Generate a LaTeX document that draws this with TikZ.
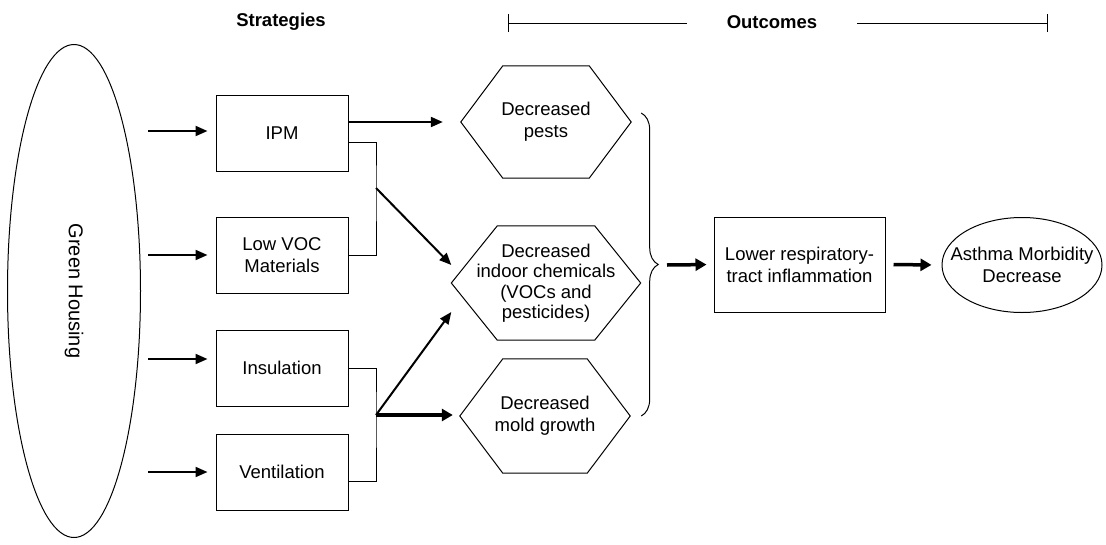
\documentclass[tikz,border=0pt]{standalone}
\usepackage{fontspec}
\setmainfont{Liberation Sans}
\usetikzlibrary{shapes.geometric,arrows.meta,decorations.pathreplacing}
\tikzstyle{lbl}=[font=\fontsize{18.5pt}{22pt}\selectfont,align=center]
\tikzstyle{sbox}=[lbl,rectangle,draw=black,line width=1pt,
  minimum width=132pt,minimum height=76pt,inner sep=2pt]
\tikzstyle{hexo}=[lbl,rectangle,minimum width=170pt,minimum height=112pt,inner sep=0pt]
\tikzstyle{obox}=[lbl,rectangle,draw=black,line width=1pt,
  minimum width=171pt,minimum height=95pt]
\tikzstyle{oval}=[lbl,ellipse,draw=black,line width=1pt]
\tikzstyle{ln}=[line width=1pt]
\tikzstyle{arw}=[-{Triangle[length=12pt,width=10pt]},line width=2pt]
\tikzstyle{arwb}=[-{Triangle[length=11pt,width=12pt]},line width=3.5pt]
% hexagon rim round an outcome node: #1 node, #2 cut of the corners
\newcommand{\hexrim}[2]{\draw [ln] ([xshift=#2]#1.north west) -- ([xshift=-#2]#1.north east)
  -- (#1.east) -- ([xshift=-#2]#1.south east) -- ([xshift=#2]#1.south west) -- (#1.west) -- cycle;}

\begin{document}
\begin{tikzpicture}[x=1pt,y=-1pt]
        \useasboundingbox (0,0) rectangle (1106,544);
        % headings
        \node [font=\fontsize{18.5pt}{22pt}\selectfont\bfseries] (strh) at (281,22) {Strategies};
        \node [font=\fontsize{18.5pt}{22pt}\selectfont\bfseries,inner xsep=40pt] (outh) at (772,22) {Outcomes};
        \coordinate (ol) at (508,23);
        \coordinate (or) at (1048,23);
        \draw [ln,{Bar[width=18pt]}-] (ol) -- (ol -| outh.west);
        \draw [ln,-{Bar[width=18pt]}] (or -| outh.east) -- (or);
        % strategies
        \node [style=oval,inner sep=0pt,rotate=-90,minimum width=493pt,minimum height=133pt,
          font=\fontsize{20pt}{24pt}\selectfont] (gh) at (74,291) {Green Housing};
        \node [style=sbox] (ipm) at (282,133) {IPM};
        \node [style=sbox] (voc) at (282,255.5) {Low VOC\\Materials};
        \node [style=sbox] (ins) at (282,368) {Insulation};
        \node [style=sbox] (vent) at (282,472) {Ventilation};
        \coordinate (g1) at (148,131);
        \coordinate (g2) at (148,255);
        \coordinate (g3) at (148,359);
        \coordinate (g4) at (148,472);
        \draw [arw,shorten >=8pt] (g1) to (g1 -| ipm.west);
        \draw [arw,shorten >=8pt] (g2) to (g2 -| voc.west);
        \draw [arw,shorten >=8pt] (g3) to (g3 -| ins.west);
        \draw [arw,shorten >=8pt] (g4) to (g4 -| vent.west);
        % outcomes
        \node [style=hexo] (pest) at (546,122) {Decreased\\pests};
        \node [style=hexo,minimum width=189pt,minimum height=114pt,
          font=\fontsize{18.5pt}{20.5pt}\selectfont] (chem) at (546,283)
          {Decreased\\indoor chemicals\\(VOCs and\\pesticides)};
        \node [style=hexo,minimum height=114pt] (mold) at (545,416) {Decreased\\mold growth};
        \hexrim{pest}{42pt}
        \hexrim{chem}{46pt}
        \hexrim{mold}{43pt}
        \coordinate (j1) at (376,188);
        \coordinate (j2) at (376,415);
        \draw [ln] ([yshift=-9pt]ipm.east) -| (j1) |- (voc.east);
        \draw [ln] (ins.east) -| (j2) |- ([yshift=-9pt]vent.east);
        \draw [arw,shorten >=18pt] (ipm.east |- pest.west) to (pest.west);
        \draw [arw] (j1) to ([yshift=18pt]chem.west);
        \draw [arw] (j2) to ([yshift=-29pt]chem.west);
        \draw [arwb,shorten >=7pt] (j2) to (j2 -| mold.west);
        \draw [ln,decorate,decoration={brace,amplitude=17pt}]
          ([xshift=10pt,yshift=9pt]pest.east) -- ([xshift=11pt]mold.east);
        \coordinate (bt) at (667,265);
        \node [style=obox] (lrt) at (799.5,264.5) {Lower respiratory-\\tract inflammation};
        \node [style=oval,inner xsep=-15pt,inner ysep=12pt,minimum width=160pt,minimum height=95pt]
          (asth) at (1022,265) {Asthma Morbidity\\Decrease};
        \draw [arwb,shorten >=7pt] (bt) to (lrt.west);
        \draw [arwb,shorten <=8pt,shorten >=10pt] (lrt.east) to (asth.west);
    \end{tikzpicture}
\end{document}
